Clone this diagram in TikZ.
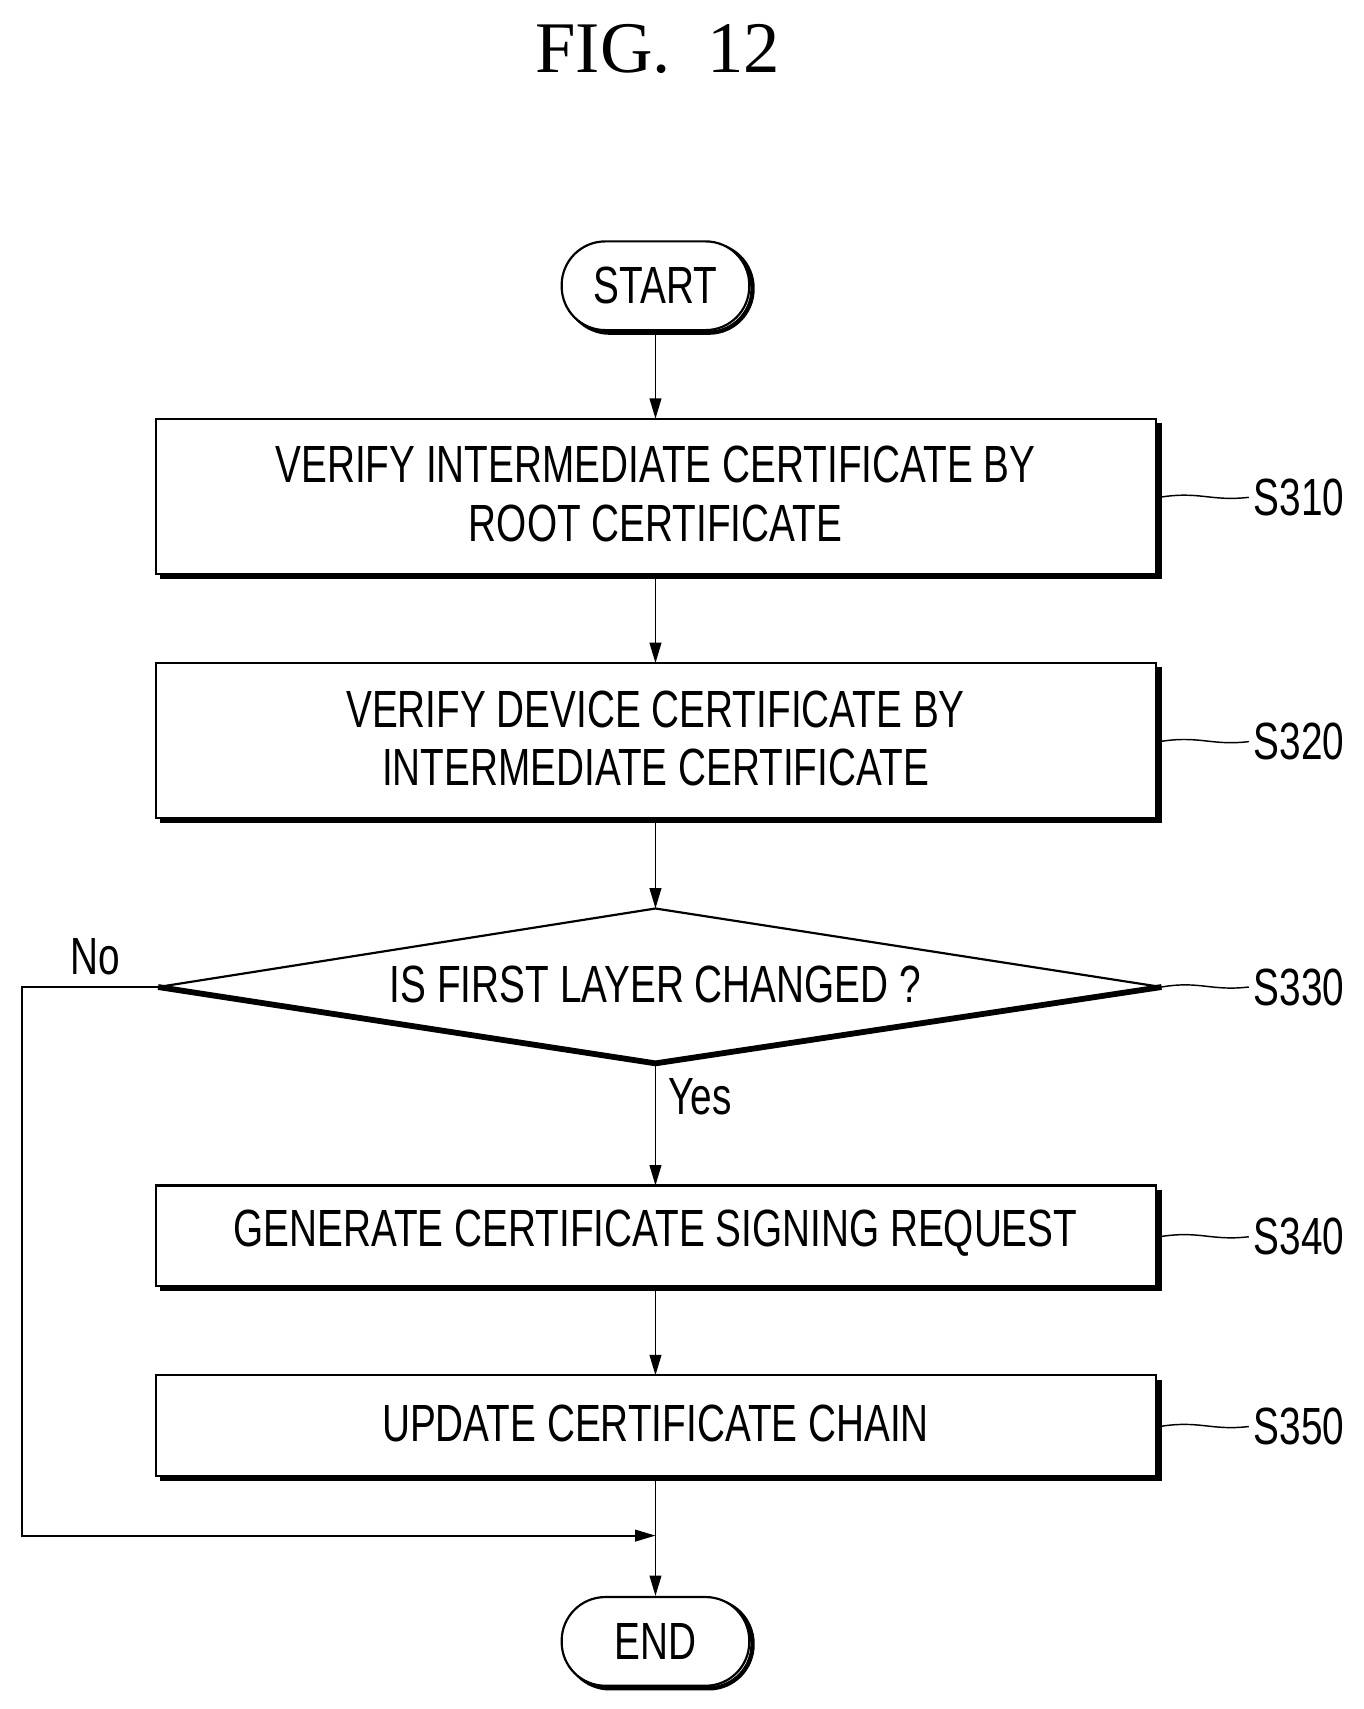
\documentclass[tikz,border=0pt]{standalone}
\usepackage{fontspec}
\setmainfont{Liberation Serif}
\newfontfamily\ff[FakeStretch=0.74]{Liberation Sans}
\usetikzlibrary{arrows.meta}
\begin{document}
\begin{tikzpicture}[x=0.75pt,y=-0.75pt,
  txt/.style={font=\ff\fontsize{36}{40}\selectfont,align=center},
  box/.style={draw,line width=1.5pt,fill=white},
  shad/.style={line width=4pt},
  arr/.style={line width=1.3pt,-{Triangle[length=14pt,width=8pt]}},
  lead/.style={line width=1pt}]
\useasboundingbox (0,0) rectangle (1250,1567);
\node[font=\fontsize{50}{54}\selectfont] (title) at (603,45) {FIG.\ \ 12};
% START/END
\foreach \n/\y/\t in {start/262/START,end/1505/END}{
  \draw[line width=3pt,rounded corners=30pt] (519,224) ++(0,\y-262) rectangle ++(171,81);
  \node[box,rounded corners=30pt,minimum width=129pt,minimum height=61pt,inner sep=0pt,line width=1.5pt] (\n) at (601,\y) {};
  \node[txt] at (601,\y) {\t};
}
% boxes
\foreach \n/\ya/\yb/\t/\s in {b1/384/528/{VERIFY INTERMEDIATE CERTIFICATE BY\\ROOT CERTIFICATE}/S310,
  b2/608/752/{VERIFY DEVICE CERTIFICATE BY\\INTERMEDIATE CERTIFICATE}/S320,
  b4/1087/1181/{GENERATE CERTIFICATE SIGNING REQUEST}/S340,
  b5/1261/1355/{UPDATE CERTIFICATE CHAIN}/S350}{
  \draw[shad] (147,\yb) -- (1063,\yb) -- (1063,\ya+4);
  \draw[box] (143,\ya) rectangle (1060,\yb-2);
  \node[txt] at (601,{(\ya+\yb)/2-3}) {\t};
  \node[txt,anchor=west] (\n l) at (1145,{(\ya+\yb)/2}) {\s};
  \draw[lead] (1063,{(\ya+\yb)/2}) .. controls (1100,{(\ya+\yb)/2-6}) and (1110,{(\ya+\yb)/2+4}) .. (\n l.west);
  \coordinate (\n t) at (601,\ya); \coordinate (\n b) at (601,\yb);
}
% diamond
\draw[line width=1.5pt] (145,905) -- (601,833) -- (1065,905);
\draw[line width=4pt] (145,905) -- (601,975) -- (1065,905);
\node[txt] at (601,903) {IS FIRST LAYER CHANGED ?};
\node[txt,anchor=west] (b3l) at (1145,905) {S330};
\draw[lead] (1065,905) .. controls (1100,899) and (1110,909) .. (b3l.west);
\coordinate (dt) at (601,833); \coordinate (db) at (601,977);
\coordinate (dl) at (145,905);
% arrows
\draw[arr] (start) -- (b1t);
\draw[arr] (b1b) -- (b2t);
\draw[arr] (b2b) -- (dt);
\draw[arr] (db) -- (b4t);
\draw[arr] (b4b) -- (b5t);
\draw[arr] (b5b) -- (end);
\coordinate (j) at (601,1408);
\draw[arr] (dl) -- (20,905) -- (20,1408) -- (j);
\node[txt] at (87,877) {No};
\node[txt] at (642,1006) {Yes};
\end{tikzpicture}
\end{document}
